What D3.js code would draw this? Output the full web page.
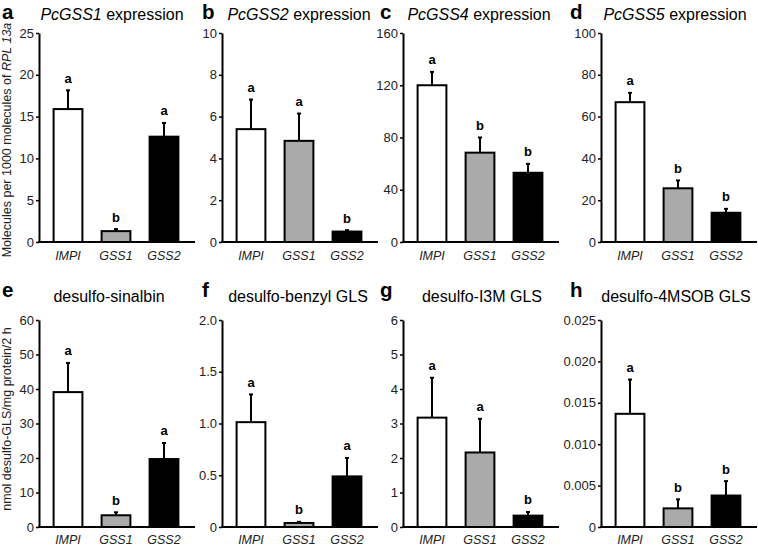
<!DOCTYPE html>
<html>
<head>
<meta charset="utf-8">
<script src="https://cdn.jsdelivr.net/npm/d3@7.9.0/dist/d3.min.js"></script>
<style>
  body { margin: 0; background: #fff; }
  svg { display: block; font-family: Arial, "Liberation Sans", sans-serif; }
</style>
</head>
<body>
<svg id="chart" width="758" height="546"></svg>
<script>
// groups on the x axis of every panel
const groups = ['IMPI', 'GSS1', 'GSS2'];
const barColors = ['#ffffff', '#aaaaaa', '#000000'];

// panel letters and titles (italic part + normal part)
const panelLetters = ['a', 'b', 'c', 'd', 'e', 'f', 'g', 'h'];
const titleItalic = ['PcGSS1', 'PcGSS2', 'PcGSS4', 'PcGSS5', '', '', '', ''];
const titleText = [' expression', ' expression', ' expression', ' expression',
  'desulfo-sinalbin', 'desulfo-benzyl GLS', 'desulfo-I3M GLS', 'desulfo-4MSOB GLS'];

// y axis max and tick labels
const yMax = [25, 10, 160, 100, 60, 2.0, 6, 0.025];
const yTicks = [
  [0, 5, 10, 15, 20, 25],
  [0, 2, 4, 6, 8, 10],
  [0, 40, 80, 120, 160],
  [0, 20, 40, 60, 80, 100],
  [0, 10, 20, 30, 40, 50, 60],
  [0, 0.5, 1.0, 1.5, 2.0],
  [0, 1, 2, 3, 4, 5, 6],
  [0, 0.005, 0.010, 0.015, 0.020, 0.025]
];
const yTickLabels = [
  ['0', '5', '10', '15', '20', '25'],
  ['0', '2', '4', '6', '8', '10'],
  ['0', '40', '80', '120', '160'],
  ['0', '20', '40', '60', '80', '100'],
  ['0', '10', '20', '30', '40', '50', '60'],
  ['0', '0.5', '1.0', '1.5', '2.0'],
  ['0', '1', '2', '3', '4', '5', '6'],
  ['0', '0.005', '0.010', '0.015', '0.020', '0.025']
];

// means (IMPI, GSS1, GSS2) per panel
const means = [
  [15.9, 1.3, 12.6],
  [5.4, 4.84, 0.5],
  [120, 68.4, 53],
  [66.9, 25.7, 14.0],
  [39.1, 3.4, 19.7],
  [1.013, 0.039, 0.489],
  [3.17, 2.16, 0.33],
  [0.01367, 0.00225, 0.0038]
];
// standard errors (upper error bar only)
const errors = [
  [2.3, 0.3, 1.7],
  [1.44, 1.33, 0.09],
  [10.6, 12, 7.2],
  [4.7, 4.0, 2.1],
  [8.6, 1.0, 4.8],
  [0.273, 0.016, 0.183],
  [1.17, 0.99, 0.12],
  [0.0042, 0.00115, 0.0018]
];
// significance letters
const sigLetters = [
  ['a', 'b', 'a'],
  ['a', 'a', 'b'],
  ['a', 'b', 'b'],
  ['a', 'b', 'b'],
  ['a', 'b', 'a'],
  ['a', 'b', 'a'],
  ['a', 'a', 'b'],
  ['a', 'b', 'b']
];

const yLabels = ['Molecules per 1000 molecules of ', 'nmol desulfo-GLS/mg protein/2 h'];

// layout
const axisX = [39, 222, 403, 601];
const rowBottom = [242, 527];
const rowTop = [33, 320];
const axisLen = 156;

const svg = d3.select('#chart');

panelLetters.forEach((letter, i) => {
  let row = Math.floor(i / 4);
  let col = i % 4;
  let x0 = axisX[col];

  let g = svg.append('g').attr('transform', `translate(${x0},0)`);

  let y = d3.scaleLinear().domain([0, yMax[i]]).range([rowBottom[row], rowTop[row]]);
  let x = d3.scaleBand().domain(groups).range([5, 149]).paddingInner(0.4).paddingOuter(0.2);

  // y axis
  let yAxis = d3.axisLeft(y)
    .tickValues(yTicks[i])
    .tickFormat((d, k) => yTickLabels[i][k])
    .tickSize(3)
    .tickSizeOuter(0)
    .tickPadding(2);
  let ya = g.append('g').call(yAxis);
  ya.select('.domain').attr('stroke-width', 2);
  ya.selectAll('.tick line').attr('stroke-width', 1.5);
  ya.selectAll('.tick text').attr('font-size', 13).attr('fill', '#222')
    .attr('font-family', 'Arial, "Liberation Sans", sans-serif');

  // x axis line
  g.append('line')
    .attr('x1', -1).attr('x2', axisLen)
    .attr('y1', rowBottom[row]).attr('y2', rowBottom[row])
    .attr('stroke', '#000').attr('stroke-width', 2);

  // bars
  groups.forEach((grp, k) => {
    let bx = x(grp);
    let bw = x.bandwidth();
    let top = y(means[i][k]);
    let errTop = y(means[i][k] + errors[i][k]);
    let cx = bx + bw / 2;

    // error bar
    g.append('line')
      .attr('x1', cx).attr('x2', cx)
      .attr('y1', top).attr('y2', errTop)
      .attr('stroke', '#000').attr('stroke-width', 2);
    g.append('line')
      .attr('x1', cx - 2).attr('x2', cx + 2)
      .attr('y1', errTop + 0.5).attr('y2', errTop + 0.5)
      .attr('stroke', '#000').attr('stroke-width', 2);

    g.append('rect')
      .attr('x', bx).attr('y', top)
      .attr('width', bw).attr('height', rowBottom[row] - top)
      .attr('fill', barColors[k])
      .attr('stroke', '#000').attr('stroke-width', 2);

    // significance letter
    g.append('text')
      .attr('x', cx).attr('y', errTop - 7)
      .attr('text-anchor', 'middle')
      .attr('font-size', 13).attr('font-weight', 'bold')
      .text(sigLetters[i][k]);

    // category label
    g.append('text')
      .attr('x', cx).attr('y', rowBottom[row] + (row === 0 ? 18 : 17))
      .attr('text-anchor', 'middle')
      .attr('font-size', 12.5).attr('font-style', 'italic').attr('fill', '#222')
      .text(grp);
  });

  // panel letter
  let letterX = [2, 202, 380, 570][col];
  let letterY = row === 0 ? 19 : 297;
  svg.append('text')
    .attr('x', letterX).attr('y', letterY)
    .attr('font-size', 20.5).attr('font-weight', 'bold')
    .text(letter);

  // panel title
  let titleCx = [112, 299, 479, 675][col];
  if (row === 1) titleCx = [109, 298, 482, 676][col];
  let title = svg.append('text')
    .attr('x', titleCx).attr('y', row === 0 ? 20 : 302)
    .attr('text-anchor', 'middle')
    .attr('font-size', 16);
  if (titleItalic[i]) {
    title.append('tspan').attr('font-style', 'italic').text(titleItalic[i]);
  }
  title.append('tspan').text(titleText[i]);
});

// y axis titles
let yl1 = svg.append('text')
  .attr('transform', 'translate(11,140) rotate(-90)')
  .attr('text-anchor', 'middle')
  .attr('font-size', 12.5)
  .attr('fill', '#222');
yl1.append('tspan').text(yLabels[0]);
yl1.append('tspan').attr('font-style', 'italic').text('RPL 13a');

svg.append('text')
  .attr('transform', 'translate(11,419) rotate(-90)')
  .attr('text-anchor', 'middle')
  .attr('font-size', 12.5)
  .attr('fill', '#222')
  .text(yLabels[1]);
</script>
</body>
</html>
